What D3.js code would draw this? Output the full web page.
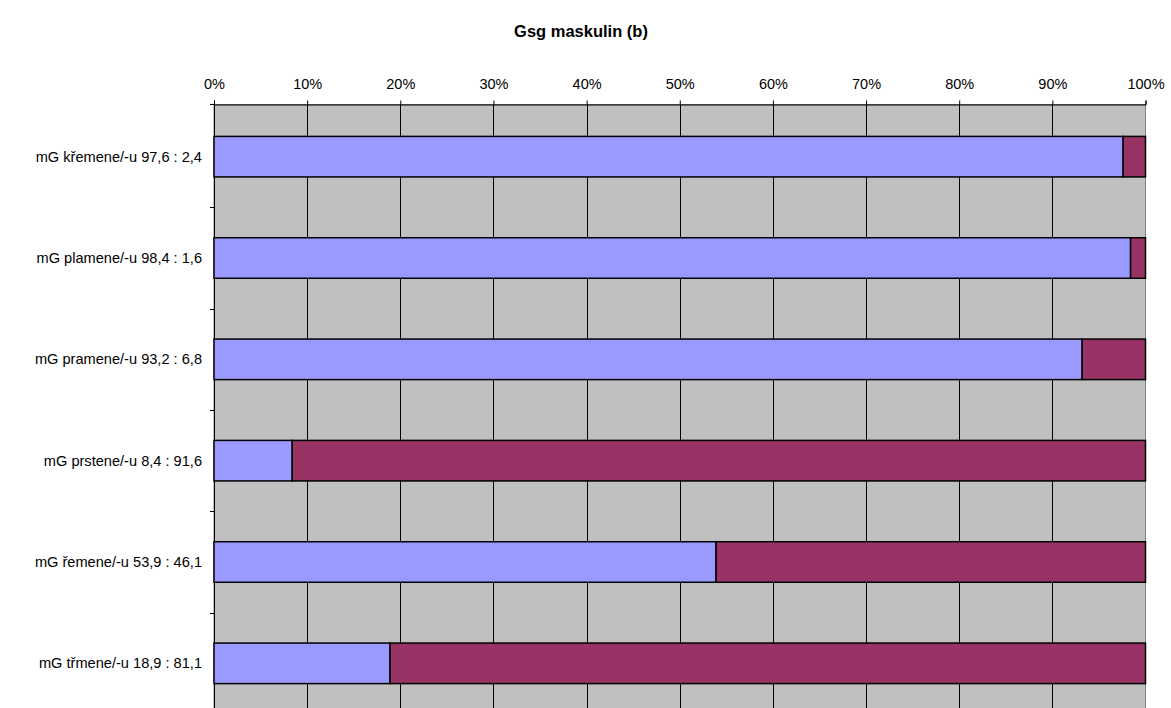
<!DOCTYPE html>
<html>
<head>
<meta charset="utf-8">
<script src="https://cdn.jsdelivr.net/npm/d3@7/dist/d3.min.js"></script>
<style>
  html, body { margin: 0; padding: 0; background: #fff; }
  svg { display: block; font-family: "Liberation Sans", Arial, sans-serif; }
</style>
</head>
<body>
<svg id="chart" width="1171" height="708"></svg>
<script>
const categories = [
  "mG křemene/-u 97,6 : 2,4",
  "mG plamene/-u 98,4 : 1,6",
  "mG pramene/-u 93,2 : 6,8",
  "mG prstene/-u 8,4 : 91,6",
  "mG řemene/-u 53,9 : 46,1",
  "mG třmene/-u 18,9 : 81,1"
];
const seriesA = [97.6, 98.4, 93.2, 8.4, 53.9, 18.9];
const seriesB = [2.4, 1.6, 6.8, 91.6, 46.1, 81.1];
const xTicks = [0, 10, 20, 30, 40, 50, 60, 70, 80, 90, 100];
const colors = ["#9999ff", "#993366"];

const svg = d3.select("#chart");
const plotL = 214, plotR = 1145.5, plotT = 104.5, plotB = 714;

const x = d3.scaleLinear().domain([0, 100]).range([plotL, plotR]);
const y = d3.scaleBand().domain(categories).range([plotT + 1.5, plotB]).paddingInner(0.6).paddingOuter(0.3);
const yBand = d3.scaleBand().domain(categories).range([plotT + 1.5, plotB]);

// title
svg.append("text")
  .attr("x", 581).attr("y", 37)
  .attr("text-anchor", "middle")
  .attr("font-size", 16.5).attr("font-weight", "bold")
  .text("Gsg maskulin (b)");

// plot background
svg.append("rect")
  .attr("x", plotL).attr("y", plotT)
  .attr("width", plotR - plotL).attr("height", plotB - plotT)
  .attr("fill", "#c0c0c0").attr("stroke", "#808080").attr("stroke-width", 1);

// vertical gridlines
svg.append("g").selectAll("line").data(xTicks.slice(1, -1)).join("line")
  .attr("x1", d => Math.round(x(d)) + 0.5).attr("x2", d => Math.round(x(d)) + 0.5)
  .attr("y1", plotT).attr("y2", plotB)
  .attr("stroke", "#000").attr("stroke-width", 1);

// top x axis
const xAxis = d3.axisTop(x).tickValues(xTicks).tickFormat(d => d + "%").tickSize(4).tickPadding(12);
const gx = svg.append("g").attr("transform", `translate(0,${plotT})`).call(xAxis);
gx.select(".domain").attr("stroke", "#000");
gx.selectAll(".tick line").attr("stroke", "#000");
gx.selectAll(".tick text").attr("font-size", 14.5).attr("fill", "#000")
  .attr("font-family", "Liberation Sans, Arial, sans-serif");

// left y axis with ticks at band boundaries
svg.append("line")
  .attr("x1", plotL + 0.5).attr("x2", plotL + 0.5).attr("y1", plotT).attr("y2", plotB)
  .attr("stroke", "#000");
svg.append("g").selectAll("line").data(categories.slice(1)).join("line")
  .attr("x1", plotL - 4).attr("x2", plotL)
  .attr("y1", d => Math.round(yBand(d)) + 0.5).attr("y2", d => Math.round(yBand(d)) + 0.5)
  .attr("stroke", "#000");
svg.append("line").attr("x1", plotL - 4).attr("x2", plotL).attr("y1", plotT).attr("y2", plotT).attr("stroke", "#000");

svg.append("g").selectAll("text").data(categories).join("text")
  .attr("x", plotL - 12)
  .attr("y", d => y(d) + y.bandwidth() / 2)
  .attr("dy", "0.35em")
  .attr("text-anchor", "end")
  .attr("font-size", 14.6)
  .text(d => d);

// stacked bars
const rows = categories.map((c, i) => ({ c, a: seriesA[i], b: seriesB[i] }));
const bars = svg.append("g");
bars.selectAll("rect.a").data(rows).join("rect")
  .attr("class", "a")
  .attr("x", x(0)).attr("y", d => y(d.c))
  .attr("width", d => x(d.a) - x(0)).attr("height", y.bandwidth())
  .attr("fill", colors[0]).attr("stroke", "#000").attr("stroke-width", 1.5);
bars.selectAll("rect.b").data(rows).join("rect")
  .attr("class", "b")
  .attr("x", d => x(d.a)).attr("y", d => y(d.c))
  .attr("width", d => x(d.a + d.b) - x(d.a)).attr("height", y.bandwidth())
  .attr("fill", colors[1]).attr("stroke", "#000").attr("stroke-width", 1.5);
</script>
</body>
</html>
